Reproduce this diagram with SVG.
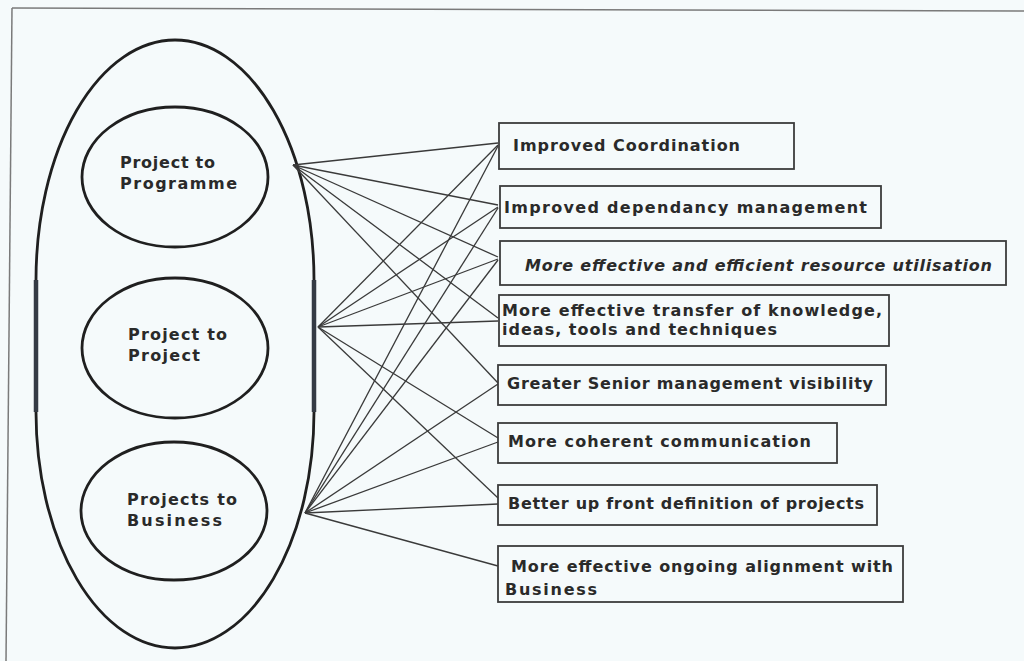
<svg xmlns="http://www.w3.org/2000/svg" width="1024" height="661" viewBox="0 0 1024 661">
  <style>
    .lbl { font-family: "DejaVu Sans", "Liberation Sans", Verdana, sans-serif; font-weight: bold; font-size: 16px; fill: #2a2a2a; }
    .ital { font-style: italic; }
    .box { fill: none; stroke: #3c3c3c; stroke-width: 1.8; }
    .ring { fill: none; stroke: #1f1f1f; stroke-width: 2.8; }
    .link { stroke: #3a3a3a; stroke-width: 1.3; fill: none; }
    .frame { stroke: #7a7a7a; stroke-width: 1.5; fill: none; }
  </style>

  <!-- page background and frame -->
  <rect x="0" y="0" width="1024" height="661" fill="#f5fafb"/>
  <path class="frame" d="M12,8 L1024,11"/>
  <path class="frame" d="M12,8 L6,661"/>

  <!-- outer enclosure holding the three interfaces -->
  <g id="enclosure">
    <path class="ring" d="M36,280 A139,240 0 0 1 314,280 L314,412 A139,236 0 0 1 36,412 Z"/>
    <path d="M36,280 L36,412 M314,280 L314,412" stroke="#343a44" stroke-width="4.5" fill="none"/>
  </g>

  <g id="project-to-programme">
    <ellipse class="ring" cx="175" cy="177" rx="93" ry="70"/>
    <text class="lbl" x="120" y="168" textLength="95" lengthAdjust="spacing">Project to</text>
    <text class="lbl" x="120" y="189" textLength="117" lengthAdjust="spacing">Programme</text>
  </g>

  <g id="project-to-project">
    <ellipse class="ring" cx="175" cy="348" rx="93" ry="70"/>
    <text class="lbl" x="128" y="340" textLength="99" lengthAdjust="spacing">Project to</text>
    <text class="lbl" x="128" y="361" textLength="72" lengthAdjust="spacing">Project</text>
  </g>

  <g id="projects-to-business">
    <ellipse class="ring" cx="174" cy="511" rx="93" ry="69"/>
    <text class="lbl" x="127" y="505" textLength="110" lengthAdjust="spacing">Projects to</text>
    <text class="lbl" x="127" y="526" textLength="95" lengthAdjust="spacing">Business</text>
  </g>

  <!-- connectors from each interface to the benefits -->
  <g id="connectors">
    <!-- Project to Programme -->
    <line class="link" x1="293" y1="165" x2="498" y2="143"/>
    <line class="link" x1="293" y1="165" x2="498" y2="205"/>
    <line class="link" x1="293" y1="165" x2="498" y2="257"/>
    <line class="link" x1="293" y1="165" x2="498" y2="318"/>
    <line class="link" x1="293" y1="165" x2="498" y2="383"/>
    <!-- Project to Project -->
    <line class="link" x1="318" y1="327" x2="498" y2="145"/>
    <line class="link" x1="318" y1="327" x2="498" y2="207"/>
    <line class="link" x1="318" y1="327" x2="498" y2="259"/>
    <line class="link" x1="318" y1="327" x2="498" y2="321"/>
    <line class="link" x1="318" y1="327" x2="498" y2="438"/>
    <line class="link" x1="318" y1="327" x2="498" y2="498"/>
    <!-- Projects to Business -->
    <line class="link" x1="305" y1="513" x2="498" y2="146"/>
    <line class="link" x1="305" y1="513" x2="498" y2="208"/>
    <line class="link" x1="305" y1="513" x2="498" y2="260"/>
    <line class="link" x1="305" y1="513" x2="498" y2="384"/>
    <line class="link" x1="305" y1="513" x2="498" y2="442"/>
    <line class="link" x1="305" y1="513" x2="498" y2="504"/>
    <line class="link" x1="305" y1="513" x2="498" y2="566"/>
  </g>

  <g id="improved-coordination">
    <rect class="box" x="499" y="123" width="295" height="46"/>
    <text class="lbl" x="513" y="151" textLength="227" lengthAdjust="spacing">Improved Coordination</text>
  </g>

  <g id="improved-dependancy-management">
    <rect class="box" x="500" y="186" width="381" height="42"/>
    <text class="lbl" x="504" y="213" textLength="363" lengthAdjust="spacing">Improved dependancy management</text>
  </g>

  <g id="resource-utilisation">
    <rect class="box" x="500" y="241" width="506" height="44"/>
    <text class="lbl ital" x="525" y="271" textLength="467" lengthAdjust="spacing">More effective and efficient resource utilisation</text>
  </g>

  <g id="knowledge-transfer">
    <rect class="box" x="499" y="295" width="390" height="51"/>
    <text class="lbl" x="502" y="316" textLength="380" lengthAdjust="spacing">More effective transfer of knowledge,</text>
    <text class="lbl" x="502" y="335" textLength="275" lengthAdjust="spacing">ideas, tools and techniques</text>
  </g>

  <g id="senior-management-visibility">
    <rect class="box" x="498" y="365" width="388" height="40"/>
    <text class="lbl" x="507" y="389" textLength="366" lengthAdjust="spacing">Greater Senior management visibility</text>
  </g>

  <g id="coherent-communication">
    <rect class="box" x="498" y="423" width="339" height="40"/>
    <text class="lbl" x="508" y="447" textLength="303" lengthAdjust="spacing">More coherent communication</text>
  </g>

  <g id="up-front-definition">
    <rect class="box" x="498" y="485" width="379" height="40"/>
    <text class="lbl" x="508" y="509" textLength="356" lengthAdjust="spacing">Better up front definition of projects</text>
  </g>

  <g id="business-alignment">
    <rect class="box" x="498" y="546" width="405" height="56"/>
    <text class="lbl" x="511" y="572" textLength="382" lengthAdjust="spacing">More effective ongoing alignment with</text>
    <text class="lbl" x="505" y="595" textLength="92" lengthAdjust="spacing">Business</text>
  </g>
</svg>
